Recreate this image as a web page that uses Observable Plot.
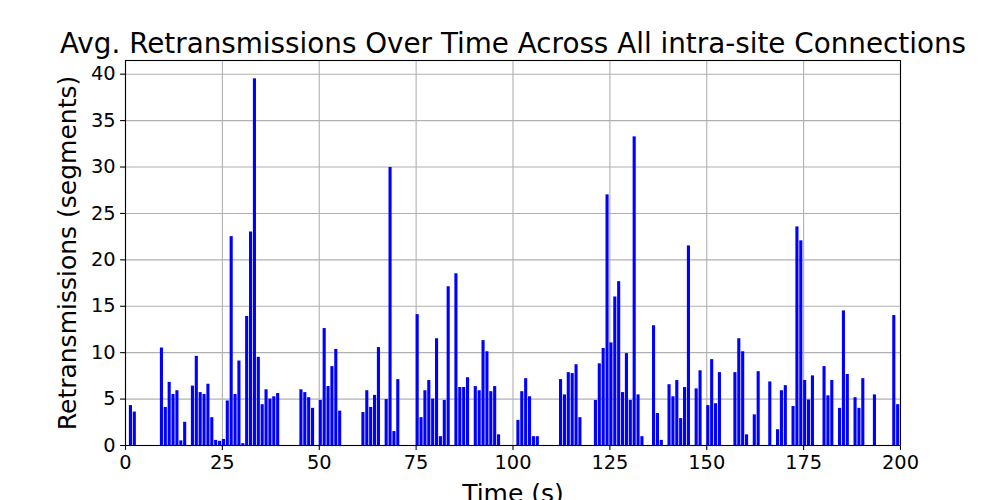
<!DOCTYPE html>
<html>
<head>
<meta charset="utf-8">
<script src="https://cdn.jsdelivr.net/npm/d3@7"></script>
<script src="https://cdn.jsdelivr.net/npm/@observablehq/plot@0.6"></script>
<style>
  html, body { margin: 0; padding: 0; background: white; }
  #chart { width: 1000px; height: 500px; overflow: hidden; }
  #chart g[aria-label$="tick label"], #chart g[aria-label$="tick label"] text { font-size: 19.4px !important; }
</style>
</head>
<body>
<div id="chart"></div>
<script>
const times = [1,2,9,10,11,12,13,14,15,17,18,19,20,21,22,23,24,25,26,27,28,29,30,31,32,33,34,35,36,37,38,39,
  45,46,47,48,50,51,52,53,54,55,61,62,63,64,65,67,68,69,70,75,76,77,78,79,80,81,82,83,85,86,87,88,90,91,92,93,94,95,96,
  101,102,103,104,105,106,112,113,114,115,116,117,121,122,123,124,125,126,127,128,129,130,131,132,133,136,137,138,
  140,141,142,143,144,145,147,148,150,151,152,153,157,158,159,160,162,163,166,168,169,170,172,173,174,175,176,177,
  180,181,182,184,185,186,188,189,190,193,198,199];
const retrans = [4.3,3.6,10.5,4.1,6.8,5.5,5.9,0.5,2.5,6.4,9.6,5.7,5.5,6.6,3.0,0.55,0.45,0.65,4.8,22.5,5.5,9.1,0.2,13.9,23.0,39.5,9.5,4.4,6.0,5.0,5.25,5.6,
  6.0,5.7,5.15,4.0,4.85,12.6,6.35,8.5,10.35,3.7,3.55,5.9,4.1,5.4,10.55,4.95,29.95,1.5,7.1,14.1,3.0,5.9,7.0,5.0,11.5,0.95,4.85,17.1,18.5,6.25,6.25,7.3,6.35,5.9,11.3,10.1,5.8,6.35,1.15,
  2.7,5.8,7.2,5.25,0.95,0.95,7.1,5.45,7.85,7.75,8.7,3.0,4.85,8.8,10.45,27.0,11.05,16.0,17.65,5.7,9.9,4.85,33.25,5.45,0.95,12.9,3.45,0.55,
  6.55,5.25,7.0,2.9,6.25,21.5,6.1,8.05,4.3,9.25,4.5,7.85,7.85,11.5,10.1,1.15,3.3,7.95,6.85,1.7,5.9,6.45,4.2,23.55,22.05,7.0,4.9,7.5,
  8.5,5.35,7.0,4.0,14.5,7.65,5.15,4.0,7.2,5.45,14.0,4.4];
const xTicks = [0,25,50,75,100,125,150,175,200];
const yTicks = [0,5,10,15,20,25,30,35,40];
const barWidth = 0.8;
const titleText = "Avg. Retransmissions Over Time Across All intra-site Connections";
const xLabel = "Time (s)";
const yLabel = "Retransmissions (segments)";

const data = times.map((t, i) => ({t, v: retrans[i]}));
const yMax = d3.max(retrans) * 1.05;

const chart = Plot.plot({
  width: 1000,
  height: 500,
  marginLeft: 125,
  marginRight: 100,
  marginTop: 60,
  marginBottom: 55,
  style: {background: "white", fontFamily: "DejaVu Sans", fontSize: "19.4px", overflow: "visible", color: "black"},
  x: {domain: [0, 200]},
  y: {domain: [0, yMax]},
  marks: [
    Plot.gridX(xTicks, {stroke: "#b0b0b0", strokeOpacity: 1, strokeWidth: 1.1}),
    Plot.gridY(yTicks, {stroke: "#b0b0b0", strokeOpacity: 1, strokeWidth: 1.1}),
    Plot.rect(data, {x1: "t", x2: d => d.t + barWidth, y1: 0, y2: "v", fill: "#0000ff"}),
    Plot.frame({stroke: "black", strokeWidth: 1.1}),
    Plot.axisX(xTicks, {tickSize: 4.9, tickPadding: 4.9, fontSize: 19.4, label: null, strokeWidth: 1.1}),
    Plot.axisY(yTicks, {tickSize: 4.9, tickPadding: 4.9, fontSize: 19.4, label: null, strokeWidth: 1.1}),
    Plot.text([titleText], {frameAnchor: "top", dy: -8, lineAnchor: "bottom", fontSize: 27.8, fill: "black"}),
    Plot.text([xLabel], {frameAnchor: "bottom", dy: 56, lineAnchor: "bottom", fontSize: 25, fill: "black"}),
    Plot.text([yLabel], {frameAnchor: "left", dx: -50, rotate: -90, textAnchor: "middle", lineAnchor: "bottom", fontSize: 25, fill: "black"})
  ]
});
document.getElementById("chart").appendChild(chart);
</script>
</body>
</html>
